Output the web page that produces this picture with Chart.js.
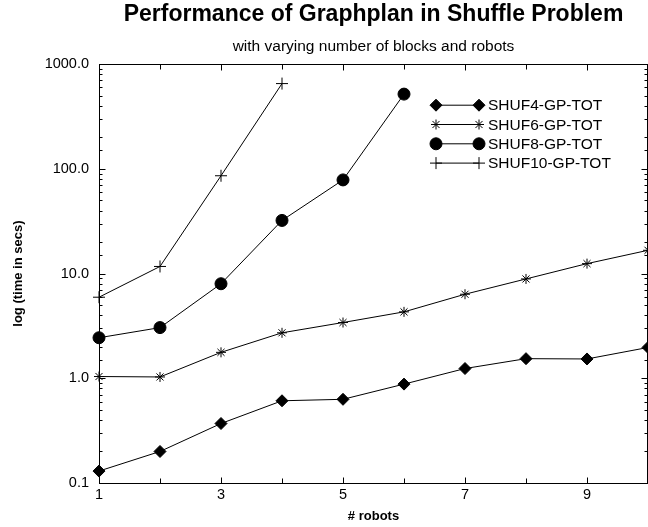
<!DOCTYPE html>
<html>
<head>
<meta charset="utf-8">
<title>Performance of Graphplan in Shuffle Problem</title>
<script src="https://cdn.jsdelivr.net/npm/chart.js@4"></script>
<style>
  html, body { margin:0; padding:0; background:#fff; }
  #wrap { width:648px; height:527px; position:relative; }
</style>
</head>
<body>
<div id="wrap"><canvas id="chart"></canvas></div>
<script>
// data (time in secs, log scale)
var robots = [1, 2, 3, 4, 5, 6, 7, 8, 9, 10];
var shuf4  = [0.13, 0.20, 0.37, 0.61, 0.63, 0.88, 1.24, 1.54, 1.53, 1.97];
var shuf6  = [1.04, 1.03, 1.77, 2.72, 3.41, 4.31, 6.35, 8.89, 12.45, 16.7];
var shuf8  = [2.44, 3.05, 8.0, 32.2, 78.5, 518];
var shuf10 = [5.95, 11.7, 86, 653];
var seriesNames = ['SHUF4-GP-TOT', 'SHUF6-GP-TOT', 'SHUF8-GP-TOT', 'SHUF10-GP-TOT'];
var xLabels = [1, 3, 5, 7, 9];
var yLabels = [0.1, 1, 10, 100, 1000];

var FONT = '"Liberation Sans", Arial, Helvetica, sans-serif';
Chart.defaults.font.family = FONT;
Chart.defaults.color = '#000';

function pts(vals) {
    return vals.map(function(v, i) { return { x: robots[i], y: v }; });
}

function mkSet(label, vals, style, r) {
    return { label: label, data: pts(vals), borderColor: '#000', backgroundColor: '#000', borderWidth: 1,
             pointStyle: style, pointRadius: r, pointHoverRadius: r, pointBorderWidth: 1, clip: false, tension: 0 };
}

// inward tick marks, box round the plot and the line+marker legend
var framePlugin = {
    id: 'frame',
    afterDatasetsDraw: function(chart) {
        var ctx = chart.ctx, a = chart.chartArea;
        var xs = chart.scales.x, ys = chart.scales.y;
        var L = Math.round(a.left) + 0.5, R = Math.round(a.right) - 0.5;
        var T = Math.round(a.top) + 0.5, B = Math.round(a.bottom) + 0.5;
        ctx.save();
        ctx.strokeStyle = '#000';
        ctx.lineWidth = 1;
        ctx.strokeRect(L, T, R - L, B - T);
        ctx.beginPath();
        robots.forEach(function(v) {
            var x = Math.round(xs.getPixelForValue(v)) + 0.5;
            var len = xLabels.indexOf(v) >= 0 ? 6 : 5;
            ctx.moveTo(x, B); ctx.lineTo(x, B - len);
            ctx.moveTo(x, T); ctx.lineTo(x, T + len);
        });
        ys.ticks.forEach(function(t) {
            var y = Math.round(ys.getPixelForValue(t.value)) + 0.5;
            var lg = Math.log10(t.value);
            var len = Math.abs(lg - Math.round(lg)) < 1e-6 ? 6 : 3;
            ctx.moveTo(L, y); ctx.lineTo(L + len, y);
            ctx.moveTo(R, y); ctx.lineTo(R - len, y);
        });
        ctx.stroke();

        // legend
        var x0 = a.right - 212, x1 = a.right - 169, tx = a.right - 160;
        ctx.font = '15.5px ' + FONT;
        ctx.textBaseline = 'middle';
        ctx.textAlign = 'left';
        chart.data.datasets.forEach(function(ds, i) {
            var y = a.top + 41 + i * 19.3;
            ctx.beginPath();
            ctx.moveTo(x0, y); ctx.lineTo(x1, y);
            ctx.stroke();
            var opt = { pointStyle: ds.pointStyle, radius: ds.pointRadius, borderWidth: 1, rotation: 0 };
            ctx.fillStyle = '#000';
            Chart.helpers.drawPoint(ctx, opt, x0, y);
            Chart.helpers.drawPoint(ctx, opt, x1, y);
            ctx.fillText(ds.label, tx, y + 1);
        });
        ctx.restore();
    }
};

new Chart(document.getElementById('chart'), {
    type: 'line',
    data: {
        datasets: [
            mkSet(seriesNames[0], shuf4, 'rectRot', 6),
            mkSet(seriesNames[1], shuf6, 'star', 5),
            mkSet(seriesNames[2], shuf8, 'circle', 6),
            mkSet(seriesNames[3], shuf10, 'cross', 6)
        ]
    },
    options: {
        responsive: true,
        maintainAspectRatio: false,
        animation: false,
        layout: { padding: 0, autoPadding: false },
        plugins: {
            legend: { display: false },
            tooltip: { enabled: false },
            title: { display: true, text: 'Performance of Graphplan in Shuffle Problem', fullSize: false,
                     font: { size: 23, weight: 'bold' }, padding: { top: 1, bottom: 4 } },
            subtitle: { display: true, text: 'with varying number of blocks and robots', fullSize: false,
                        font: { size: 15.5 }, padding: { top: 5, bottom: 8 } }
        },
        scales: {
            x: {
                type: 'linear', min: 1, max: 10,
                grid: { display: false, drawTicks: false },
                border: { display: false },
                afterBuildTicks: function(s) { s.ticks = robots.map(function(v) { return { value: v }; }); },
                afterFit: function(s) { s.height = 44; s.paddingLeft = 0; s.paddingRight = 0; },
                ticks: { padding: 3, autoSkip: false, maxRotation: 0, font: { size: 14.5 },
                         callback: function(v) { return xLabels.indexOf(v) >= 0 ? String(v) : ''; } },
                title: { display: true, text: '# robots', font: { size: 13, weight: 'bold' }, padding: { top: 0, bottom: 3 } }
            },
            y: {
                type: 'logarithmic', min: 0.1, max: 1000,
                grid: { display: false, drawTicks: false },
                border: { display: false },
                afterFit: function(s) { s.width = 99; s.paddingTop = 0; s.paddingBottom = 0; },
                ticks: { padding: 10, autoSkip: false, font: { size: 14.5 },
                         callback: function(v) {
                             for (var i = 0; i < yLabels.length; i++) {
                                 if (Math.abs(v - yLabels[i]) < yLabels[i] * 1e-6) return yLabels[i].toFixed(1);
                             }
                             return '';
                         } },
                title: { display: true, text: 'log (time in secs)', font: { size: 13, weight: 'bold' }, padding: { top: 11, bottom: 0 } }
            }
        }
    },
    plugins: [framePlugin]
});
</script>
</body>
</html>
